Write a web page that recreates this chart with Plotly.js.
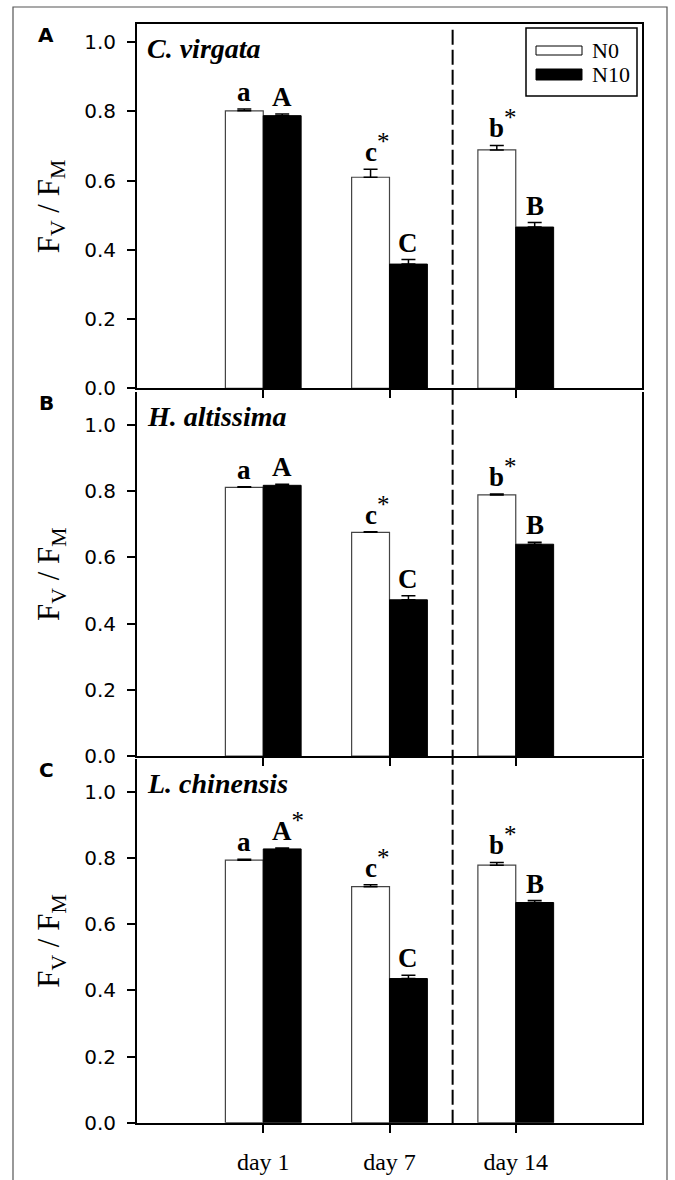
<!DOCTYPE html>
<html><head><meta charset="utf-8">
<script src="https://cdn.plot.ly/plotly-3.0.1.min.js"></script>
<style>body{margin:0;background:#fff}</style>
</head><body>
<div id="chart" style="width:675px;height:1180px"></div>
<script>
// ---------- data ----------
const categories = ['day 1', 'day 7', 'day 14'];
const seriesNames = ['N0', 'N10'];
const panelLabels = ['A', 'B', 'C'];
const speciesNames = ['C. virgata', 'H. altissima', 'L. chinensis'];
const yTickVals = [0, 0.2, 0.4, 0.6, 0.8, 1.0];

const n0_A = [0.802, 0.610, 0.689];
const n0_A_se = [0.005, 0.023, 0.013];
const n10_A = [0.788, 0.359, 0.466];
const n10_A_se = [0.005, 0.013, 0.013];

const n0_B = [0.812, 0.676, 0.789];
const n0_B_se = [0.002, 0.002, 0.003];
const n10_B = [0.818, 0.472, 0.640];
const n10_B_se = [0.003, 0.012, 0.006];

const n0_C = [0.794, 0.714, 0.779];
const n0_C_se = [0.003, 0.006, 0.008];
const n10_C = [0.828, 0.436, 0.666];
const n10_C_se = [0.003, 0.010, 0.006];

const letters_n0_A = ['a', 'c*', 'b*'];
const letters_n10_A = ['A', 'C', 'B'];
const letters_n0_B = ['a', 'c*', 'b*'];
const letters_n10_B = ['A', 'C', 'B'];
const letters_n0_C = ['a', 'c*', 'b*'];
const letters_n10_C = ['A*', 'C', 'B'];

// ---------- layout helpers ----------
const W = 675, H = 1180;
const px = v => v / W;
const py = v => 1 - v / H;
const plotLeft = 137, plotRight = 642;
const panelTop = [24.3, 392, 759];
const panelBottom = [388.3, 756, 1122.7];
const yMax = [1.052, 1.10, 1.10];

const n0 = [n0_A, n0_B, n0_C];
const n0se = [n0_A_se, n0_B_se, n0_C_se];
const n10 = [n10_A, n10_B, n10_C];
const n10se = [n10_A_se, n10_B_se, n10_C_se];
const lettersN0 = [letters_n0_A, letters_n0_B, letters_n0_C];
const lettersN10 = [letters_n10_A, letters_n10_B, letters_n10_C];

const serif = 'Liberation Serif, Times New Roman, serif';
const sans = 'DejaVu Sans, Arial, sans-serif';

const traces = [];
const layout = {
  width: W, height: H,
  margin: {l: 0, r: 0, t: 0, b: 0},
  paper_bgcolor: 'white', plot_bgcolor: 'white',
  barmode: 'group', bargap: 0.4, bargroupgap: 0,
  showlegend: false,
  annotations: [], shapes: []
};

const barWidth = (1 - layout.bargap) / 2;

function fmtLetter(s) {
  if (s.endsWith('*')) return '<b>' + s.slice(0, -1) + '</b><sup><span style="font-size:25px">*</span></sup>';
  return '<b>' + s + '</b>';
}

for (let p = 0; p < 3; p++) {
  const sfx = p === 0 ? '' : String(p + 1);
  const xa = 'x' + sfx, ya = 'y' + sfx;
  traces.push({
    type: 'bar', name: seriesNames[0], x: categories, y: n0[p],
    xaxis: xa, yaxis: ya,
    marker: {color: 'white', line: {color: '#444', width: 1.2}},
    error_y: {type: 'data', symmetric: false, array: n0se[p], arrayminus: n0se[p].map(() => 0),
              color: 'black', thickness: 1.5, width: 7},
    hoverinfo: 'skip'
  });
  traces.push({
    type: 'bar', name: seriesNames[1], x: categories, y: n10[p],
    xaxis: xa, yaxis: ya,
    marker: {color: 'black', line: {color: 'black', width: 1}},
    error_y: {type: 'data', symmetric: false, array: n10se[p], arrayminus: n10se[p].map(() => 0),
              color: 'black', thickness: 1.5, width: 7},
    hoverinfo: 'skip'
  });

  layout['xaxis' + sfx] = {
    domain: [px(plotLeft), px(plotRight)],
    anchor: ya, type: 'category', categoryorder: 'array', categoryarray: categories,
    range: [-1, 3],
    showline: true, linecolor: 'black', linewidth: 2, mirror: p === 0,
    ticks: 'outside', ticklen: 8, tickwidth: 2, tickcolor: 'black',
    showgrid: false, zeroline: false,
    showticklabels: p === 2, ticklabelstandoff: 8,
    tickfont: {family: serif, size: 24, color: 'black'}
  };
  layout['yaxis' + sfx] = {
    domain: [py(panelBottom[p]), py(panelTop[p])],
    anchor: xa, range: [0, yMax[p]],
    showline: true, linecolor: 'black', linewidth: 2, mirror: true,
    ticks: 'outside', ticklen: 8, tickwidth: 2, tickcolor: 'black',
    tickvals: yTickVals, tickformat: '.1f', ticklabelstandoff: 7,
    showgrid: false, zeroline: false,
    tickfont: {family: sans, size: 20, color: 'black'}
  };

  // significance letters
  for (let i = 0; i < categories.length; i++) {
    [[n0, n0se, lettersN0, -1], [n10, n10se, lettersN10, 1]].forEach(([vals, ses, lets, side]) => {
      const t = lets[p][i];
      layout.annotations.push({
        xref: xa, yref: ya, x: i + side * barWidth / 2, y: vals[p][i] + ses[p][i],
        text: fmtLetter(t), showarrow: false, xanchor: 'center', yanchor: 'bottom',
        xshift: t.endsWith('*') ? 6 : 0, yshift: 0,
        font: {family: serif, size: 27, color: 'black'}
      });
    });
  }

  // species name
  layout.annotations.push({
    xref: 'paper', yref: 'paper', x: px(plotLeft + 8), y: py(panelTop[p] + 24),
    text: '<b><i>' + speciesNames[p] + '</i></b>', showarrow: false,
    xanchor: 'left', yanchor: 'middle',
    font: {family: serif, size: 28, color: 'black'}
  });
  // panel letter
  layout.annotations.push({
    xref: 'paper', yref: 'paper', x: px(46), y: py(panelTop[p] + 11),
    text: '<b>' + panelLabels[p] + '</b>', showarrow: false,
    xanchor: 'center', yanchor: 'middle',
    font: {family: sans, size: 20, color: 'black'}
  });
  // y axis title
  layout.annotations.push({
    xref: 'paper', yref: 'paper', x: px(51), y: py((panelTop[p] + panelBottom[p]) / 2),
    text: 'F<sub>V</sub> / F<sub>M</sub>', showarrow: false, textangle: -90,
    xanchor: 'center', yanchor: 'middle',
    font: {family: serif, size: 31, color: 'black'}
  });
}

// dashed separator between day 7 and day 14
layout.shapes.push({
  type: 'line', xref: 'x', yref: 'paper', x0: 1.5, x1: 1.5,
  y0: py(panelBottom[2] + 2), y1: py(28),
  line: {color: 'black', width: 2, dash: '15px,5px'}
});

// outer figure frame
layout.shapes.push({
  type: 'rect', xref: 'paper', yref: 'paper', x0: px(13), x1: px(667), y0: -0.02, y1: py(7),
  line: {color: '#555', width: 1.2}, fillcolor: 'rgba(0,0,0,0)'
});

// legend (manual, to get wide rectangular swatches)
layout.shapes.push({
  type: 'rect', xref: 'paper', yref: 'paper', x0: px(526), x1: px(637), y0: py(96), y1: py(28),
  line: {color: 'black', width: 1.5}, fillcolor: 'white'
});
layout.shapes.push({
  type: 'rect', xref: 'paper', yref: 'paper', x0: px(536), x1: px(582), y0: py(55), y1: py(46),
  line: {color: 'black', width: 1}, fillcolor: 'white'
});
layout.shapes.push({
  type: 'rect', xref: 'paper', yref: 'paper', x0: px(536), x1: px(582), y0: py(80), y1: py(69),
  line: {color: 'black', width: 1}, fillcolor: 'black'
});
[[seriesNames[0], 50], [seriesNames[1], 74]].forEach(([nm, yy]) => {
  layout.annotations.push({
    xref: 'paper', yref: 'paper', x: px(590), y: py(yy), text: nm, showarrow: false,
    xanchor: 'left', yanchor: 'middle', font: {family: serif, size: 22, color: 'black'}
  });
});

Plotly.newPlot('chart', traces, layout, {displayModeBar: false});
</script>
</body></html>
